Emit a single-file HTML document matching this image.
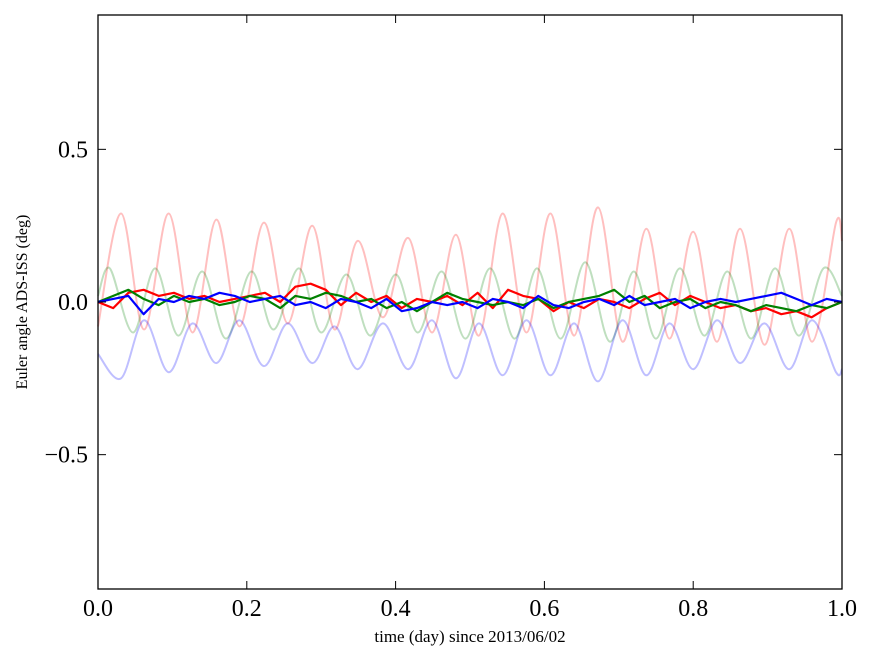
<!DOCTYPE html>
<html><head><meta charset="utf-8"><style>
body{margin:0;background:#fff;}
svg{display:block;font-family:"Liberation Serif",serif;}
</style></head><body>
<svg id="chart" width="875" height="662">
<rect x="0" y="0" width="875" height="662" fill="#fff"/>
<g id="series"></g>
<g id="axes"></g>
<text x="470" y="642" font-size="17" text-anchor="middle">time (day) since 2013/06/02</text>
<text transform="translate(27,302) rotate(-90)" font-size="16" text-anchor="middle">Euler angle ADS-ISS (deg)</text>
</svg>
<script>
const xTicks=[0,0.2,0.4,0.6,0.8,1.0];
const xTickLabels=["0.0","0.2","0.4","0.6","0.8","1.0"];
const yTicks=[-0.5,0,0.5];
const yTickLabels=["\u22120.5","0.0","0.5"];
const lightRedT=[0,0.031,0.062,0.095,0.127,0.159,0.19,0.223,0.255,0.288,0.318,0.349,0.383,0.417,0.449,0.481,0.512,0.544,0.576,0.608,0.64,0.672,0.705,0.737,0.768,0.8,0.832,0.863,0.896,0.929,0.96,0.992,1.0];
const lightRedV=[-0.08,0.29,-0.09,0.29,-0.1,0.27,-0.08,0.26,-0.07,0.25,-0.09,0.2,-0.05,0.21,-0.1,0.22,-0.11,0.29,-0.1,0.29,-0.11,0.31,-0.13,0.24,-0.12,0.23,-0.13,0.24,-0.14,0.24,-0.13,0.26,0.2];
const lightGreenT=[0,0.016,0.047,0.077,0.108,0.14,0.172,0.206,0.236,0.27,0.3,0.334,0.366,0.4,0.43,0.462,0.494,0.527,0.56,0.59,0.622,0.655,0.688,0.72,0.75,0.782,0.815,0.846,0.878,0.91,0.942,0.975,1.0];
const lightGreenV=[0.02,0.11,-0.1,0.11,-0.11,0.1,-0.12,0.1,-0.09,0.11,-0.1,0.09,-0.11,0.09,-0.1,0.1,-0.12,0.11,-0.12,0.11,-0.12,0.13,-0.13,0.1,-0.12,0.11,-0.11,0.1,-0.12,0.11,-0.11,0.11,0.02];
const lightBlueT=[0,0.031,0.062,0.095,0.127,0.159,0.19,0.223,0.255,0.288,0.318,0.349,0.383,0.417,0.449,0.481,0.512,0.544,0.576,0.608,0.64,0.672,0.705,0.737,0.768,0.8,0.832,0.863,0.896,0.929,0.96,0.992,1.0];
const lightBlueV=[-0.17,-0.25,-0.06,-0.23,-0.07,-0.2,-0.06,-0.21,-0.07,-0.2,-0.08,-0.22,-0.07,-0.22,-0.06,-0.25,-0.07,-0.24,-0.06,-0.24,-0.07,-0.26,-0.06,-0.24,-0.07,-0.22,-0.06,-0.2,-0.07,-0.22,-0.06,-0.23,-0.22];
const redV=[0.0,-0.02,0.03,0.04,0.02,0.03,0.01,0.02,0.0,0.01,0.02,0.03,0.0,0.05,0.06,0.04,-0.01,0.03,0.0,0.02,-0.02,0.01,0.0,0.02,-0.01,0.03,-0.02,0.04,0.02,0.01,-0.03,0.0,-0.02,0.01,0.0,-0.02,0.01,0.03,-0.01,0.02,0.0,-0.02,-0.01,-0.03,-0.02,-0.04,-0.03,-0.05,-0.02,0.0];
const greenV=[0.0,0.02,0.04,0.01,-0.01,0.02,0.0,0.01,-0.01,0.0,0.02,0.01,-0.02,0.02,0.01,0.03,0.02,0.0,0.01,-0.02,0.0,-0.03,0.0,0.03,0.01,0.0,-0.01,0.0,-0.01,0.01,-0.02,0.0,0.01,0.02,0.04,0.0,0.02,-0.02,0.0,0.01,-0.02,0.0,-0.01,-0.03,-0.01,-0.02,-0.03,-0.01,-0.02,0.0];
const blueV=[0.0,0.01,0.02,-0.04,0.01,0.0,0.02,0.01,0.03,0.02,0.0,0.01,0.02,-0.01,0.0,-0.02,0.01,0.0,-0.02,0.01,-0.03,-0.02,0.0,-0.01,0.0,-0.02,0.01,0.0,-0.02,0.02,-0.01,-0.02,0.0,0.01,-0.01,0.02,-0.01,0.0,0.01,-0.02,0.0,0.01,0.0,0.01,0.02,0.03,0.01,-0.01,0.01,0.0];

const L=98,R=842,T=15,B=589,ymin=-0.94,ymax=0.94;
const sx=v=>L+(v-0)/(1-0)*(R-L);
const sy=v=>B-(v-ymin)/(ymax-ymin)*(B-T);
const NS="http://www.w3.org/2000/svg";
const sg=document.getElementById('series'),ag=document.getElementById('axes');
function pathD(ts,vs,smooth){
  const P=vs.map((v,i)=>[sx(ts[i]),sy(v)]);
  if(!smooth) return P.map((p,i)=>(i?'L':'M')+p[0].toFixed(1)+','+p[1].toFixed(1)).join('');
  let d='M'+P[0][0].toFixed(1)+','+P[0][1].toFixed(1);
  for(let i=0;i<P.length-1;i++){
    const p0=P[Math.max(0,i-1)],p1=P[i],p2=P[i+1],p3=P[Math.min(P.length-1,i+2)];
    const c1=[p1[0]+(p2[0]-p0[0])/6,p1[1]+(p2[1]-p0[1])/6];
    const c2=[p2[0]-(p3[0]-p1[0])/6,p2[1]-(p3[1]-p1[1])/6];
    d+='C'+c1.map(n=>n.toFixed(1)).join(',')+' '+c2.map(n=>n.toFixed(1)).join(',')+' '+p2[0].toFixed(1)+','+p2[1].toFixed(1);
  }
  return d;
}
function line(ts,vs,color,w,op,name,smooth){
  const p=document.createElementNS(NS,'path');
  p.setAttribute('d',pathD(ts,vs,smooth));
  p.setAttribute('fill','none');p.setAttribute('stroke',color);p.setAttribute('stroke-width',w);
  p.setAttribute('stroke-opacity',op);p.setAttribute('stroke-linejoin','round');
  
  
  sg.appendChild(p);
}
const idxT=a=>a.map((_,i)=>i/(a.length-1));
line(lightRedT,lightRedV,'#f00',2,0.25,'line-red-light',true);
line(lightGreenT,lightGreenV,'#008000',2,0.25,'line-green-light',true);
line(lightBlueT,lightBlueV,'#00f',2,0.25,'line-blue-light',true);
line(idxT(redV),redV,'#f00',2.2,1,'line-red',false);
line(idxT(greenV),greenV,'#008000',2.2,1,'line-green',false);
line(idxT(blueV),blueV,'#00f',2.2,1,'line-blue',false);
const fr=document.createElementNS(NS,'rect');
fr.setAttribute('x',L);fr.setAttribute('y',T);fr.setAttribute('width',R-L);fr.setAttribute('height',B-T);
fr.setAttribute('fill','none');fr.setAttribute('stroke','#000');fr.setAttribute('stroke-width','1.3');


ag.appendChild(fr);
function seg(x1,y1,x2,y2){const l=document.createElementNS(NS,'line');l.setAttribute('x1',x1);l.setAttribute('y1',y1);l.setAttribute('x2',x2);l.setAttribute('y2',y2);l.setAttribute('stroke','#000');l.setAttribute('stroke-width','1');


ag.appendChild(l);}
function txt(x,y,s,anchor,name){const t=document.createElementNS(NS,'text');t.setAttribute('x',x);t.setAttribute('y',y);t.setAttribute('font-size','24');t.setAttribute('text-anchor',anchor);t.textContent=s;


ag.appendChild(t);}
xTicks.forEach((v,i)=>{const x=sx(v);seg(x,B,x,B-8);seg(x,T,x,T+8);txt(x,B+27,xTickLabels[i],'middle','x-tick-label');});
yTicks.forEach((v,i)=>{const y=sy(v);seg(L,y,L+8,y);seg(R,y,R-8,y);txt(L-10,y+8,yTickLabels[i],'end','y-tick-label');});
</script>
</body></html>
